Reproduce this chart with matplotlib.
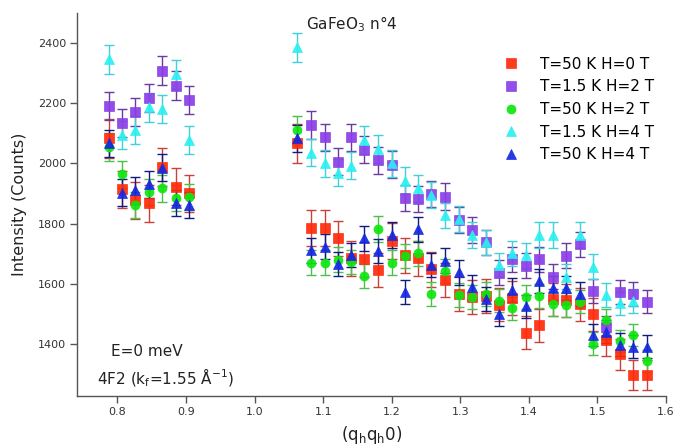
import numpy as np
import matplotlib
matplotlib.use("Agg")
import matplotlib.pyplot as plt

# ---- data -------------------------------------------------------------
q_left = [0.787, 0.806, 0.826, 0.846, 0.865, 0.885, 0.904]
q_right = [1.062, 1.082, 1.102, 1.121, 1.141, 1.160, 1.180, 1.200, 1.219,
           1.239, 1.258, 1.278, 1.298, 1.317, 1.337, 1.356, 1.376, 1.396,
           1.415, 1.435, 1.454, 1.474, 1.494, 1.513, 1.533, 1.552, 1.572]

# T=50 K H=0 T
red_left = [2083, 1914, 1878, 1867, 1989, 1923, 1901]
red_right = [2067, 1786, 1786, 1751, 1685, 1681, 1646, 1742, 1695, 1685,
             1648, 1613, 1567, 1557, 1560, 1530, 1552, 1438, 1462, 1548,
             1545, 1532, 1499, 1412, 1365, 1297, 1297]
# T=1.5 K H=2 T
purple_left = [2191, 2135, 2172, 2218, 2308, 2259, 2211]
purple_right = [None, 2128, 2087, 2006, 2087, 2045, 2011, 1995, 1886, 1881,
                1898, 1890, 1812, 1779, 1738, 1637, 1681, 1660, 1681, 1624,
                1693, 1731, 1577, 1456, 1574, 1565, 1541]
# T=50 K H=2 T
green_left = [2055, 1964, 1862, 1906, 1917, 1886, 1889]
green_right = [2111, 1670, 1670, 1680, 1673, 1627, 1782, 1670, 1692, 1701,
               1566, 1643, 1563, 1557, 1566, 1544, 1518, 1556, 1560, 1533,
               1530, 1541, 1401, 1478, 1410, 1430, 1344]
# T=1.5 K H=4 T
cyan_left = [2346, 2094, 2111, 2186, 2180, 2296, 2078]
cyan_right = [2386, 2036, 2000, 1969, 1992, 2078, 2048, 2000, 1943, 1917,
              1895, 1827, 1815, 1762, 1738, 1662, 1701, 1694, 1762, 1762,
              1624, 1762, 1657, 1564, 1535, 1542, None]
# T=50 K H=4 T
blue_left = [2067, 1903, 1912, 1930, 1986, 1870, 1862]
blue_right = [2083, 1712, 1723, 1665, 1696, 1751, 1709, 1762, 1574, 1781,
              1662, 1677, 1638, 1588, 1549, 1500, 1579, 1525, 1610, 1586,
              1587, 1566, 1430, 1440, 1398, 1391, 1391]

labels = ["T=50 K H=0 T", "T=1.5 K H=2 T", "T=50 K H=2 T",
          "T=1.5 K H=4 T", "T=50 K H=4 T"]
x_ticks = [0.8, 0.9, 1.0, 1.1, 1.2, 1.3, 1.4, 1.5, 1.6]
x_ticklabels = ["0.8", "0.9", "1.0", "1.1", "1.2", "1.3", "1.4", "1.5", "1.6"]
y_ticks = [1400, 1600, 1800, 2000, 2200, 2400]

series = [
    (red_left + red_right, 2.0, "s", "#ff2a0a", "#c8403a"),
    (purple_left + purple_right, 1.0, "s", "#8a3ee6", "#6a3a9e"),
    (green_left + green_right, 1.0, "o", "#0ee60e", "#4cbf4c"),
    (cyan_left + cyan_right, 1.0, "^", "#2af0f0", "#40d0d8"),
    (blue_left + blue_right, 1.0, "^", "#1428e0", "#101a80"),
]
q_all = q_left + q_right

# ---- figure -----------------------------------------------------------
plt.rcParams['font.family'] = ['DejaVu Sans']
fig = plt.figure(figsize=(6.74, 4.46), dpi=100)
ax = fig.add_axes([77 / 674, 1 - 396 / 446, (666 - 77) / 674, (396 - 13) / 446])

for (vals, var_scale, mk, fc, ec), lab in zip(series, labels):
    q = np.array([x for x, v in zip(q_all, vals) if v is not None])
    v = np.array([v for v in vals if v is not None], dtype=float)
    err = np.sqrt(var_scale * v)  # counting statistics
    ax.errorbar(q, v, yerr=err, fmt="none", ecolor=ec, elinewidth=1.0,
                capsize=3.6, capthick=1.0, zorder=2)
    ms = 7.2 if mk == "^" else 6.5
    ax.plot(q, v, linestyle="none", marker=mk, markersize=ms,
            markerfacecolor=fc, markeredgecolor=fc, markeredgewidth=0.5,
            alpha=0.92, label=lab, zorder=3)

ax.set_xlim(0.741, 1.6)
ax.set_ylim(1227, 2500)
ax.set_xticks(x_ticks)
ax.set_xticklabels(x_ticklabels)
ax.set_yticks(y_ticks)
for s in ["top", "right"]:
    ax.spines[s].set_visible(False)
for s in ["left", "bottom"]:
    ax.spines[s].set_color("#555555")
    ax.spines[s].set_linewidth(1.0)
ax.tick_params(direction="out", length=5, width=1, color="#555555",
               labelsize=8, labelcolor="#333333", pad=3)

ax.set_ylabel("Intensity (Counts)", fontsize=11.5, color="#222222")
ax.yaxis.set_label_coords(-0.085, 0.5)
ax.set_xlabel(r"(q$_\mathregular{h}$q$_\mathregular{h}$0)", fontsize=12,
              color="#222222")
ax.xaxis.set_label_coords(0.5, -0.072)

ax.text(0.467, 0.97, r"GaFeO$_\mathregular{3}$ n°4", transform=ax.transAxes,
        ha="center", va="center", fontsize=11, color="#222222")
ax.text((147 - 77) / 589, (396 - 352) / 383, "E=0 meV", transform=ax.transAxes,
        ha="center", va="center", fontsize=11, color="#222222")
ax.text((166 - 77) / 589, (396 - 378) / 383,
        r"4F2 (k$_\mathregular{f}$=1.55 Å$^\mathregular{-1}$)",
        transform=ax.transAxes, ha="center", va="center", fontsize=11,
        color="#222222")

leg = ax.legend(loc="upper right", bbox_to_anchor=(0.995, 0.91), frameon=False,
                fontsize=11, handlelength=1.0, handletextpad=1.4,
                labelspacing=0.5, borderaxespad=0.2)

fig.savefig("out.png", dpi=100)
